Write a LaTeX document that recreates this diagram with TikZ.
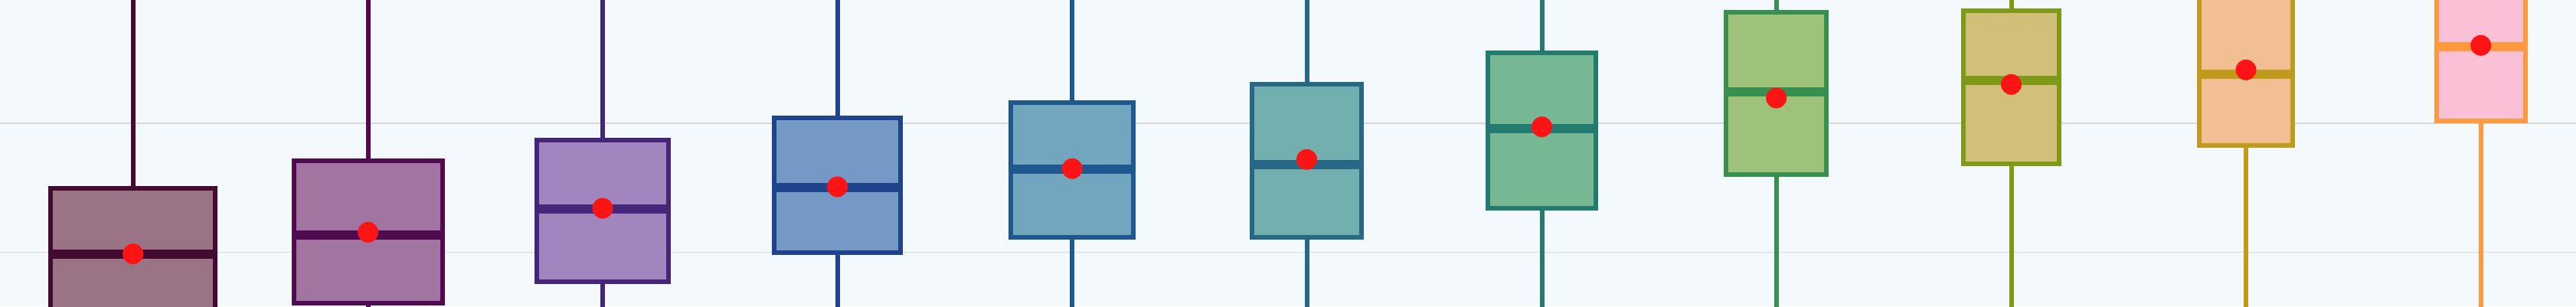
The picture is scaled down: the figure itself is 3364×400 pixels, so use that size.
\documentclass[tikz,border=0pt]{standalone}
\definecolor{paper}{HTML}{F4F9FD}
\definecolor{grid}{HTML}{D9D9D9}
\definecolor{meanred}{HTML}{FE1414}
\definecolor{line1}{HTML}{450A32}  \definecolor{fill1}{HTML}{9A7484}
\definecolor{line2}{HTML}{500A52}  \definecolor{fill2}{HTML}{A274A0}
\definecolor{line3}{HTML}{45277A}  \definecolor{fill3}{HTML}{A085BE}
\definecolor{line4}{HTML}{1F438C}  \definecolor{fill4}{HTML}{7499C5}
\definecolor{line5}{HTML}{1F5790}  \definecolor{fill5}{HTML}{72A6BE}
\definecolor{line6}{HTML}{266886}  \definecolor{fill6}{HTML}{74AFB0}
\definecolor{line7}{HTML}{237B70}  \definecolor{fill7}{HTML}{76B894}
\definecolor{line8}{HTML}{389050}  \definecolor{fill8}{HTML}{9EC27A}
\definecolor{line9}{HTML}{7F9A17}  \definecolor{fill9}{HTML}{D2C07A}
\definecolor{line10}{HTML}{BF9B1C} \definecolor{fill10}{HTML}{F2BF95}
\definecolor{line11}{HTML}{FE9A3D} \definecolor{fill11}{HTML}{F9C0D6}
\begin{document}
\begin{tikzpicture}[x=0.01cm, y=-0.01cm]
	\fill[paper] (0,0) rectangle (3364,400);
	\useasboundingbox (0,0) rectangle (3364,400);
	\clip (0,0) rectangle (3364,400);
	\draw[grid, line width=0.02cm] (0,160.7) -- (3364,160.7);
	\draw[grid, line width=0.015cm] (0,329.3) -- (3364,329.3);
	% centre / half width / top / bottom / median / mean
	\foreach \c/\w/\t/\b/\m/\d/\k in {
		173.7/110.3/243.3/430/332.3/331.7/1,
		480.7/100/207.3/398.7/306.7/303.3/2,
		787/89.2/180/371.3/273/272/3,
		1093.5/85.8/150.7/332.7/245.3/244/4,
		1400.2/82.8/130.7/312.7/221.3/220.3/5,
		1706.5/74.5/106.7/313.3/215/208.3/6,
		2013.5/73.8/66.3/275.3/167.7/165.7/7,
		2319.7/68.7/13.3/231.3/120.3/128/8,
		2626.5/65.2/10.7/216.7/105.3/110.3/9,
		2933/64.3/-20/193/96.7/91.3/10,
		3239.7/61/-20/160.7/60.7/59.3/11}{
		\draw[line\k, line width=0.06cm] (\c,\t) -- (\c,-10);
		\draw[line\k, line width=0.06cm] (\c,\b) -- (\c,410);
		\filldraw[fill=fill\k, draw=line\k, line width=0.06cm] (\c-\w+3,\t+3) rectangle (\c+\w-3,\b-3);
		\draw[line\k, line width=0.12cm] (\c-\w+3,\m) -- (\c+\w-3,\m);
		\fill[meanred] (\c,\d) circle[radius=0.135cm];
	}
\end{tikzpicture}
\end{document}
